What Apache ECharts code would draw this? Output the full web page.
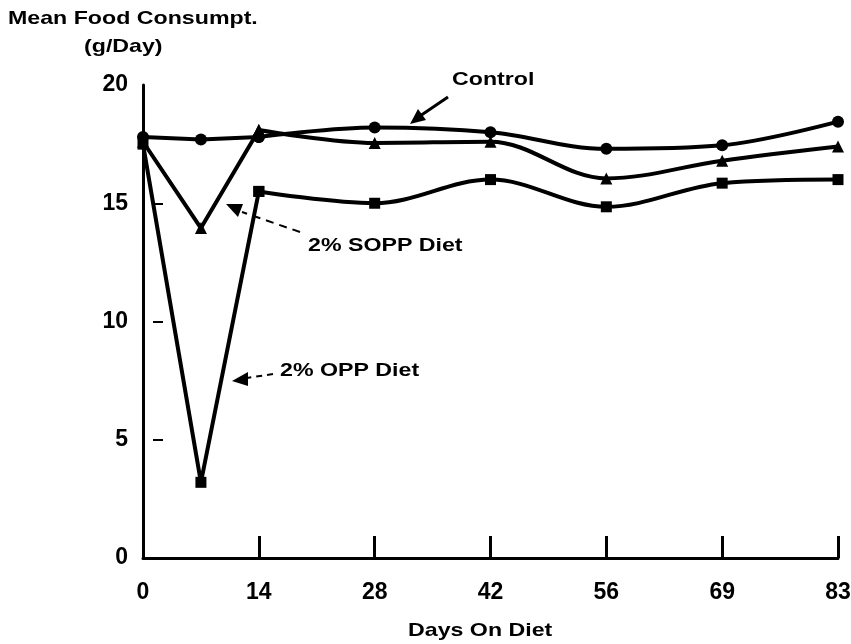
<!DOCTYPE html>
<html>
<head>
<meta charset="utf-8">
<script src="https://cdn.jsdelivr.net/npm/echarts@6/dist/echarts.min.js"></script>
<style>
  html, body { margin: 0; padding: 0; background: #fff; }
  #chart { width: 851px; height: 644px; }
</style>
</head>
<body>
<div id="chart"></div>
<script>
// sampling days and the day labels printed under the ticks
const days = [0, 7, 14, 28, 42, 56, 69, 83]
const tickDays = [0, 14, 28, 42, 56, 69, 83]
const yTicks = [0, 5, 10, 15, 20]

// mean food consumption, g/day
const control = [17.8, 17.7, 17.8, 18.2, 18.0, 17.3, 17.45, 18.45]
const soppDiet = [17.6, 13.95, 18.1, 17.55, 17.6, 16.05, 16.8, 17.4]
const oppDiet = [17.5, 3.2, 15.5, 15.0, 16.0, 14.85, 15.85, 16.0]

// first two weeks are drawn straight, the rest as a smooth curve
const straightUntil = 2

const font = '"Liberation Sans", Arial, sans-serif'

// ticks are evenly spaced on paper, so place each day between its neighbouring ticks
function dayPos(d) {
  for (let i = 0; i < tickDays.length - 1; i++) {
    if (d <= tickDays[i + 1]) {
      return i + (d - tickDays[i]) / (tickDays[i + 1] - tickDays[i])
    }
  }
  return tickDays.length - 1
}

function pairs(values) {
  return days.map((d, i) => [dayPos(d), values[i]])
}

function lineSeries(name, values, symbol, size) {
  const pts = pairs(values)
  const base = {
    name,
    type: 'line',
    symbol,
    symbolSize: size,
    lineStyle: { color: '#000', width: 4 },
    itemStyle: { color: '#000' },
    z: 3
  }
  return [
    Object.assign({}, base, { data: pts.slice(0, straightUntil + 1) }),
    Object.assign({}, base, { data: pts.slice(straightUntil), smooth: 0.35 })
  ]
}

function label(text, x, y) {
  return {
    type: 'text',
    x,
    y,
    scaleX: 1.22,
    style: { text, font: 'bold 19px ' + font, fill: '#000' }
  }
}

const chart = echarts.init(document.getElementById('chart'))
chart.setOption({
  animation: false,
  grid: { left: 143, right: 13, top: 85, bottom: 86, outerBoundsMode: 'none' },
  xAxis: {
    type: 'value',
    min: 0,
    max: tickDays.length - 1,
    interval: 1,
    splitLine: { show: false },
    axisLine: { lineStyle: { color: '#000', width: 3 } },
    axisTick: {
      inside: true,
      length: 22,
      customValues: [1, 2, 3, 4, 5, 6],
      lineStyle: { color: '#000', width: 3 }
    },
    axisLabel: {
      margin: 23,
      color: '#000',
      fontFamily: font,
      fontWeight: 'bold',
      fontSize: 23,
      formatter: v => String(tickDays[Math.round(v)])
    }
  },
  yAxis: {
    type: 'value',
    min: 0,
    max: 20,
    interval: 5,
    splitLine: { show: false },
    axisLine: { show: true, lineStyle: { color: '#000', width: 3 } },
    axisTick: {
      show: true,
      inside: true,
      length: 20,
      customValues: yTicks.slice(1, -1),
      lineStyle: { color: '#000', width: 2, type: [10, 10], dashOffset: 10 }
    },
    axisLabel: {
      margin: 15,
      color: '#000',
      fontFamily: font,
      fontWeight: 'bold',
      fontSize: 23,
      customValues: yTicks
    }
  },
  graphic: [
    label('Mean Food Consumpt.', 8, 9),
    label('(g/Day)', 84, 37),
    label('Days On Diet', 408, 621),
    label('Control', 452, 70),
    { type: 'line', shape: { x1: 448, y1: 97, x2: 420, y2: 116 }, style: { stroke: '#000', lineWidth: 3 } },
    { type: 'polygon', shape: { points: [[410, 124], [418, 109], [426, 120]] }, style: { fill: '#000' } },
    label('2% SOPP Diet', 308, 236),
    { type: 'line', shape: { x1: 300, y1: 232, x2: 242, y2: 212 }, style: { stroke: '#000', lineWidth: 2, lineDash: [8, 6] } },
    { type: 'polygon', shape: { points: [[226, 204], [243, 204], [238, 217]] }, style: { fill: '#000' } },
    label('2% OPP Diet', 280, 361),
    { type: 'line', shape: { x1: 273, y1: 374, x2: 247, y2: 378 }, style: { stroke: '#000', lineWidth: 2, lineDash: [6, 5] } },
    { type: 'polygon', shape: { points: [[232, 381], [248, 372], [248, 386]] }, style: { fill: '#000' } }
  ],
  series: [].concat(
    lineSeries('Control', control, 'circle', 12),
    lineSeries('2% SOPP Diet', soppDiet, 'triangle', 12),
    lineSeries('2% OPP Diet', oppDiet, 'rect', 11)
  )
})
</script>
</body>
</html>
